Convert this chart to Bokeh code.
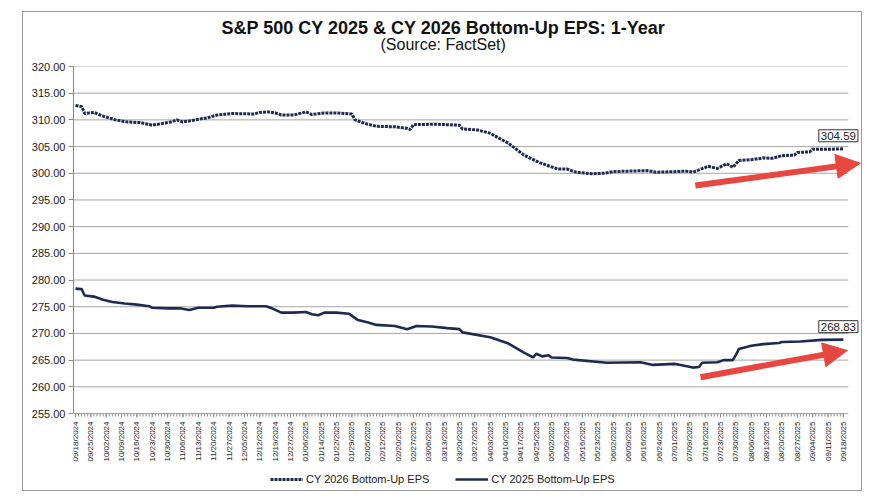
import math
from bokeh.plotting import figure
from bokeh.models import (Range1d, FixedTicker, PrintfTickFormatter, Legend, LegendItem,
                          Label, Title, Arrow, NormalHead)
from bokeh.core.properties import value
from bokeh.embed import file_html
from bokeh.resources import INLINE

# ---------------- data ----------------
tick_labels = [
    "09/18/2024", "09/25/2024", "10/02/2024", "10/09/2024", "10/16/2024", "10/23/2024",
    "10/30/2024", "11/06/2024", "11/13/2024", "11/20/2024", "11/27/2024", "12/05/2024",
    "12/12/2024", "12/19/2024", "12/27/2024", "01/06/2025", "01/14/2025", "01/22/2025",
    "01/29/2025", "02/05/2025", "02/12/2025", "02/20/2025", "02/27/2025", "03/06/2025",
    "03/13/2025", "03/20/2025", "03/27/2025", "04/03/2025", "04/10/2025", "04/17/2025",
    "04/25/2025", "05/02/2025", "05/09/2025", "05/16/2025", "05/23/2025", "06/02/2025",
    "06/09/2025", "06/16/2025", "06/24/2025", "07/01/2025", "07/09/2025", "07/16/2025",
    "07/23/2025", "07/30/2025", "08/06/2025", "08/13/2025", "08/20/2025", "08/27/2025",
    "09/04/2025", "09/11/2025", "09/18/2025",
]
days_per_label = 5  # trading days between labels

# trading-day index / EPS
days_2026 = [0, 2, 3, 6, 9, 13, 17, 21, 25, 28, 31, 33, 35, 38, 43, 46, 51, 58, 60, 63,
             66, 67, 71, 75, 77, 81, 85, 90, 91, 95, 98, 104, 108, 109, 110, 117, 125, 126, 131, 135,
             141, 146, 151, 155, 157, 160, 163, 168, 172, 175, 180, 186, 189, 195, 199, 201, 206, 209, 212, 214,
             216, 221, 224, 227, 230, 234, 235, 239, 240, 246, 250]
eps_2026 = [312.7, 312.5, 311.2, 311.4, 310.7, 310.0, 309.6, 309.5, 309.0, 309.3,
            309.6, 310.0, 309.6, 309.9, 310.4, 310.9, 311.2, 311.1, 311.4, 311.5,
            311.2, 310.9, 310.9, 311.5, 311.0, 311.3, 311.3, 311.1, 310.0, 309.2,
            308.8, 308.7, 308.4, 308.2, 309.1, 309.2, 309.0, 308.3, 308.1, 307.5,
            305.6, 303.4, 302.0, 301.2, 300.8, 300.8, 300.2, 299.9, 300.0, 300.3,
            300.4, 300.5, 300.2, 300.3, 300.4, 300.2, 301.3, 300.9, 301.8, 301.1,
            302.4, 302.6, 302.9, 302.8, 303.3, 303.4, 303.9, 304.0, 304.5, 304.5,
            304.59]

days_2025 = [0, 2, 3, 6, 9, 12, 16, 20, 24, 25, 30, 34, 37, 40, 45, 46, 51, 56, 62, 64,
             67, 71, 75, 77, 79, 81, 85, 89, 92, 95, 98, 104, 108, 111, 116, 121, 125, 126, 135, 141,
             146, 149, 150, 152, 154, 155, 160, 162, 173, 184, 188, 195, 197, 201, 203, 204, 209, 211, 214, 215,
             216, 220, 224, 229, 230, 236, 243, 250]
eps_2025 = [278.4, 278.3, 277.1, 276.9, 276.3, 275.9, 275.6, 275.4, 275.1, 274.8,
            274.7, 274.7, 274.4, 274.8, 274.8, 275.0, 275.2, 275.1, 275.1, 274.7,
            273.9, 273.9, 274.0, 273.6, 273.4, 273.9, 273.9, 273.7, 272.5, 272.1,
            271.6, 271.4, 270.8, 271.4, 271.3, 271.0, 270.8, 270.2, 269.3, 268.1,
            266.4, 265.5, 266.2, 265.7, 265.9, 265.5, 265.4, 265.1, 264.5, 264.6,
            264.1, 264.3, 264.1, 263.6, 263.7, 264.5, 264.6, 265.0, 265.0, 266.0,
            267.1, 267.7, 268.0, 268.2, 268.4, 268.5, 268.8, 268.83]

series_names = ["CY 2026 Bottom-Up EPS", "CY 2025 Bottom-Up EPS"]
title_text = "S&P 500 CY 2025 & CY 2026 Bottom-Up  EPS: 1-Year"
subtitle_text = "(Source: FactSet)"
y_ticks = list(range(255, 321, 5))

# ---------------- style / layout ----------------
FONT = "Liberation Sans"
NAVY = "#1e2b50"
RED = "#e8473f"
GRID = "#a6a6a6"
AX = "#8a8a8a"

W, H = 838, 478
B_LEFT, B_TOP = 50, 54
FRAME_H = H - B_TOP            # frame runs to the bottom of the canvas
PLOT_H = 347                   # pixel height of the 255..320 value band
px_per_unit = PLOT_H / (y_ticks[-1] - y_ticks[0])
y_lo = y_ticks[0] - (FRAME_H - PLOT_H) / px_per_unit

last_day = days_per_label * (len(tick_labels) - 1)
x_lo, x_grid_hi, x_hi = -0.65, last_day + 1.6, last_day + 5.9

p = figure(
    width=W, height=H,
    min_border_left=B_LEFT, min_border_right=0, min_border_top=B_TOP, min_border_bottom=0,
    x_range=Range1d(x_lo, x_hi), y_range=Range1d(y_lo, y_ticks[-1]),
    x_axis_location=None,
    output_backend="svg", toolbar_location=None,
    background_fill_color="white", border_fill_color="white",
    margin=(12, 0, 0, 23),
    stylesheets=[":host { outline: 1px solid #9a9a9a; }"],
)
p.outline_line_color = None
p.xgrid.grid_line_color = None
p.ygrid.grid_line_color = None

# titles (first added sits closest to the plot)
sub = Title(text=subtitle_text, align="left", offset=307, text_font=FONT,
            text_font_size="16px", text_font_style="normal", text_color="#111111", standoff=28)
main = Title(text=title_text, align="left", offset=148, text_font=FONT,
             text_font_size="18px", text_font_style="bold", text_color="#111111", standoff=-36)
p.add_layout(sub, "above")
p.add_layout(main, "above")

# y axis
ya = p.yaxis[0]
ya.bounds = (y_ticks[0], y_ticks[-1])
ya.ticker = FixedTicker(ticks=y_ticks)
ya.formatter = PrintfTickFormatter(format="%.2f")
ya.major_label_text_font = FONT
ya.major_label_text_font_size = "11px"
ya.major_label_text_color = "#222222"
ya.axis_line_color = AX
ya.major_tick_line_color = AX
ya.major_tick_out = 5
ya.major_tick_in = 0
ya.minor_tick_line_color = None
ya.major_label_standoff = 3

# horizontal gridlines (the 255 line doubles as the category axis line)
n_y = len(y_ticks)
p.segment(x0=[x_lo] * n_y, y0=y_ticks, x1=[x_grid_hi] * n_y, y1=y_ticks,
          line_color=GRID, line_width=1)

# category axis: a tick per trading day, a label every 5 trading days
base = y_ticks[0]
all_days = list(range(0, last_day + 1))
label_days = [i * days_per_label for i in range(len(tick_labels))]
p.segment(x0=all_days, y0=[base] * len(all_days), x1=all_days,
          y1=[base - 3 / px_per_unit] * len(all_days), line_color=AX, line_width=1)
p.segment(x0=label_days, y0=[base] * len(label_days), x1=label_days,
          y1=[base - 4 / px_per_unit] * len(label_days), line_color=AX, line_width=1)
p.text(x=label_days, y=[base] * len(label_days), text=tick_labels, angle=math.pi / 2,
       text_align="right", text_baseline="middle", y_offset=8,
       text_font=value(FONT), text_font_size="8px", text_color="#222222")

# series
r26 = p.line(days_2026, eps_2026, line_color=NAVY, line_width=3, line_dash="3 1")
r25 = p.line(days_2025, eps_2025, line_color=NAVY, line_width=2.6)

legend = Legend(items=[LegendItem(label=series_names[0], renderers=[r26]),
                       LegendItem(label=series_names[1], renderers=[r25])],
                orientation="horizontal", location=(197, 5),
                label_text_font=FONT, label_text_font_size="11px", label_text_color="#222222",
                glyph_width=33, glyph_height=10, label_height=12, label_standoff=3, spacing=26,
                padding=2, margin=0, border_line_color=None, background_fill_alpha=0)
p.add_layout(legend, "center")

# end-value labels
for d, v in ((days_2026[-1], eps_2026[-1]), (days_2025[-1], eps_2025[-1])):
    p.add_layout(Label(x=d, y=v, text=f"{v:.2f}", text_align="center", text_baseline="bottom",
                       x_offset=-5, y_offset=7, text_font=FONT, text_font_size="11.5px",
                       text_color="#222222", border_line_color="#333333", border_line_width=1,
                       background_fill_color="white", padding=2))

# trend arrows
for xs, ys, xe, ye in ((201.8, 297.7, 255.5, 301.9), (203.5, 261.8, 251.3, 266.8)):
    p.add_layout(Arrow(end=NormalHead(size=24, fill_color=RED, line_color=RED),
                       x_start=xs, y_start=ys, x_end=xe, y_end=ye,
                       line_color=RED, line_width=6))

open("out.html", "w").write(file_html(p, INLINE))
